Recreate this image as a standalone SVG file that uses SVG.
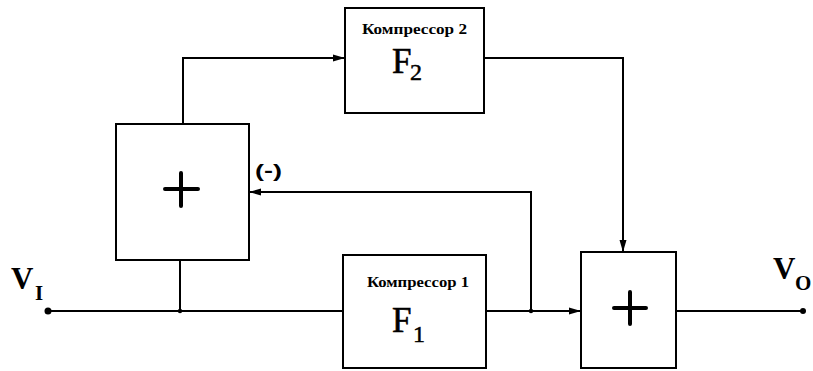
<svg xmlns="http://www.w3.org/2000/svg" width="813" height="371" viewBox="0 0 813 371">
  <defs>
    <marker id="arrow" viewBox="0 0 12 8" refX="12" refY="4" markerWidth="12" markerHeight="8" markerUnits="userSpaceOnUse" orient="auto">
      <path d="M0,0.5 L12,4 L0,7.5 Z" fill="#000"/>
    </marker>
  </defs>
  <style>
    .box { fill: #fff; stroke: #000; stroke-width: 2; }
    .wire { fill: none; stroke: #000; stroke-width: 2; }
    .plus { stroke: #000; stroke-width: 4; stroke-linecap: round; }
    .cap { font-family: "Liberation Serif", "DejaVu Serif", serif; font-weight: bold; font-size: 15px; fill: #000; }
    .big { font-family: "Liberation Serif", "DejaVu Serif", serif; font-size: 35px; fill: #000; stroke: #000; stroke-width: 0.6; }
    .sub { font-family: "Liberation Serif", "DejaVu Serif", serif; font-size: 24px; fill: #000; stroke: #000; stroke-width: 0.5; }
    .port { font-family: "Liberation Serif", "DejaVu Serif", serif; font-weight: bold; font-size: 31px; fill: #000; }
    .portsub { font-family: "Liberation Serif", "DejaVu Serif", serif; font-weight: bold; font-size: 21px; fill: #000; }
    .sign { font-family: "Liberation Sans", "DejaVu Sans", sans-serif; font-weight: bold; font-size: 19px; fill: #000; }
  </style>

  <g id="connectors">
    <!-- input bus into compressor 1 -->
    <path class="wire" d="M48,311 H343"/>
    <!-- input tap into the subtractor -->
    <path class="wire" d="M180,311 V260"/>
    <!-- subtractor output to compressor 2 -->
    <path class="wire" d="M183,124 V58 H345" marker-end="url(#arrow)"/>
    <!-- compressor 1 output to the summer -->
    <path class="wire" d="M486,311 H581" marker-end="url(#arrow)"/>
    <!-- negative feedback from compressor 1 output -->
    <path class="wire" d="M531,311 V192 H249" marker-end="url(#arrow)"/>
    <!-- compressor 2 output to the summer -->
    <path class="wire" d="M484,58 H623 V252" marker-end="url(#arrow)"/>
    <!-- summer output -->
    <path class="wire" d="M676,311 H803"/>
    <circle cx="180" cy="311" r="2.2" fill="#000"/>
    <circle cx="531" cy="311" r="2.2" fill="#000"/>
  </g>

  <g id="input">
    <circle cx="48" cy="311" r="3.5" fill="#000"/>
    <text class="port" x="11" y="289">V</text>
    <text class="portsub" x="35" y="300">I</text>
  </g>

  <g id="output">
    <circle cx="803" cy="311" r="3" fill="#000"/>
    <text class="port" x="773" y="279">V</text>
    <text class="portsub" x="795" y="290">O</text>
  </g>

  <g id="subtractor">
    <rect class="box" x="116" y="124" width="133" height="136"/>
    <path class="plus" d="M165,189 H198 M181,173 V206"/>
    <text class="sign" x="255" y="177" textLength="27" lengthAdjust="spacingAndGlyphs">(-)</text>
  </g>

  <g id="compressor2">
    <rect class="box" x="345" y="8" width="139" height="105"/>
    <text class="cap" x="362" y="34" textLength="105" lengthAdjust="spacingAndGlyphs">Компрессор 2</text>
    <text class="big" x="392" y="73">F</text>
    <text class="sub" x="410" y="80">2</text>
  </g>

  <g id="compressor1">
    <rect class="box" x="343" y="255" width="143" height="113"/>
    <text class="cap" x="367" y="287" textLength="102" lengthAdjust="spacingAndGlyphs">Компрессор 1</text>
    <text class="big" x="392" y="332">F</text>
    <text class="sub" x="413" y="342">1</text>
  </g>

  <g id="summer">
    <rect class="box" x="581" y="252" width="95" height="116"/>
    <path class="plus" d="M614,308 H646 M630,292 V324"/>
  </g>
</svg>
